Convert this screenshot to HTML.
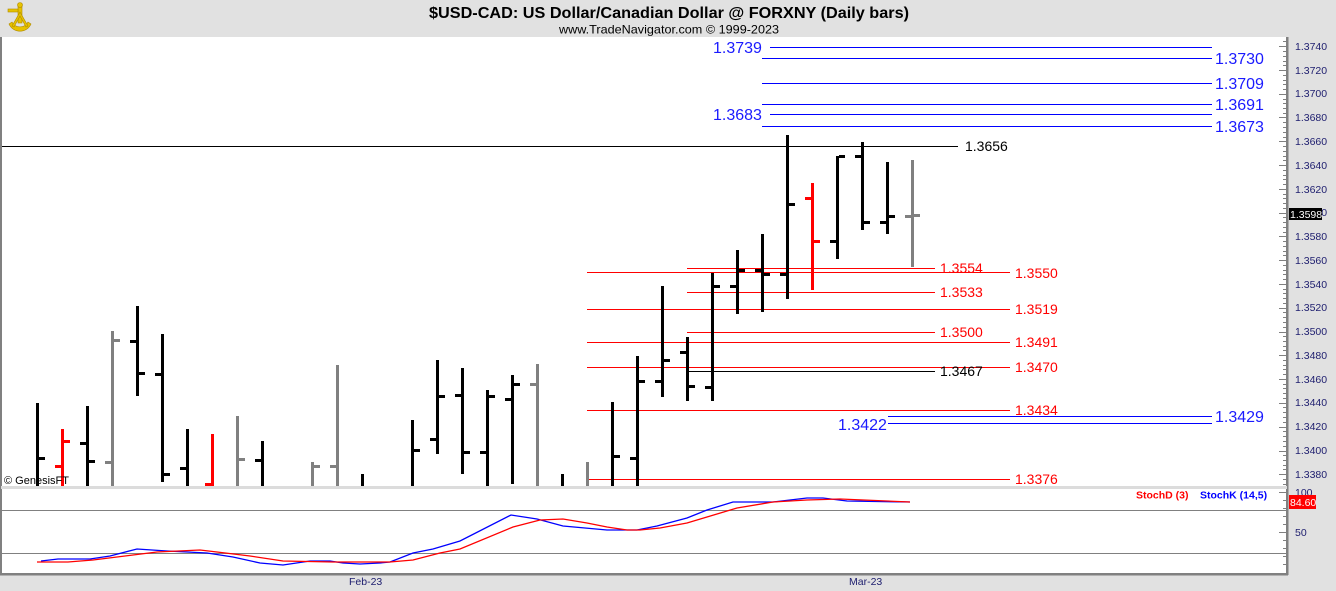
<!DOCTYPE html>
<html><head><meta charset="utf-8"><style>
html,body{margin:0;padding:0;background:#e1e1e1;}
svg{display:block;}
text{font-family:"Liberation Sans",Arial,sans-serif;}
</style></head><body>
<svg width="1336" height="591" viewBox="0 0 1336 591" xmlns="http://www.w3.org/2000/svg">
<rect x="0" y="0" width="1336" height="591" fill="#e1e1e1"/>
<!-- header -->
<g fill="#e6c200" stroke="#b08a00" stroke-width="0.6">
<path d="M9 24 A12 12 0 0 0 31 24 L28 22 A9 9 0 0 1 12 22 Z"/>
<rect x="18" y="5" width="4" height="18"/>
<rect x="8" y="9" width="10" height="3"/>
<circle cx="20" cy="5" r="2.5"/>
<path d="M20 12 L12 26 L14 27 L20 16 L26 27 L28 26 Z"/>
</g>
<text x="429" y="18" font-size="16" font-weight="bold" textLength="480" lengthAdjust="spacingAndGlyphs" fill="#000">$USD-CAD:  US Dollar/Canadian Dollar @ FORXNY  (Daily bars)</text>
<text x="559" y="33.5" font-size="12" textLength="220" lengthAdjust="spacingAndGlyphs" fill="#000">www.TradeNavigator.com © 1999-2023</text>

<!-- plot areas -->
<rect x="1" y="37" width="1286" height="449" fill="#fff"/>
<rect x="1" y="489" width="1286" height="84" fill="#fff"/>
<rect x="0" y="37" width="2" height="538" fill="#808080"/>
<rect x="1286" y="37" width="2.5" height="538" fill="#808080"/>
<rect x="0" y="573" width="1288" height="2.5" fill="#808080"/>

<!-- level lines -->
<g stroke-width="1" shape-rendering="crispEdges">
<line x1="770" y1="47.5" x2="1212" y2="47.5" stroke="#0000ff"/>
<line x1="762" y1="58.5" x2="1212" y2="58.5" stroke="#0000ff"/>
<line x1="762" y1="83.5" x2="1212" y2="83.5" stroke="#0000ff"/>
<line x1="762" y1="104.5" x2="1212" y2="104.5" stroke="#0000ff"/>
<line x1="770" y1="114.5" x2="1212" y2="114.5" stroke="#0000ff"/>
<line x1="762" y1="126.5" x2="1212" y2="126.5" stroke="#0000ff"/>
<line x1="2" y1="146.5" x2="958" y2="146.5" stroke="#000"/>
<line x1="687" y1="268.5" x2="935" y2="268.5" stroke="#ff0000"/>
<line x1="587" y1="272.5" x2="1010" y2="272.5" stroke="#ff0000"/>
<line x1="687" y1="292.5" x2="935" y2="292.5" stroke="#ff0000"/>
<line x1="587" y1="309.5" x2="1010" y2="309.5" stroke="#ff0000"/>
<line x1="687" y1="332.5" x2="935" y2="332.5" stroke="#ff0000"/>
<line x1="587" y1="342.5" x2="1010" y2="342.5" stroke="#ff0000"/>
<line x1="587" y1="367.5" x2="1010" y2="367.5" stroke="#ff0000"/>
<line x1="687" y1="371.5" x2="935" y2="371.5" stroke="#000"/>
<line x1="587" y1="410.5" x2="1010" y2="410.5" stroke="#ff0000"/>
<line x1="888" y1="416.5" x2="1212" y2="416.5" stroke="#0000ff"/>
<line x1="888" y1="423.5" x2="1212" y2="423.5" stroke="#0000ff"/>
<line x1="587" y1="479.5" x2="1010" y2="479.5" stroke="#ff0000"/>
</g>

<!-- level labels -->
<g font-size="16" fill="#1a1aff">
<text x="713" y="53">1.3739</text>
<text x="1215" y="64">1.3730</text>
<text x="1215" y="89">1.3709</text>
<text x="1215" y="110">1.3691</text>
<text x="713" y="120">1.3683</text>
<text x="1215" y="132">1.3673</text>
<text x="1215" y="422">1.3429</text>
<text x="838" y="430">1.3422</text>
</g>
<g font-size="14">
<text x="965" y="151" fill="#000">1.3656</text>
<text x="940" y="273" fill="#ff0000">1.3554</text>
<text x="1015" y="278" fill="#ff0000">1.3550</text>
<text x="940" y="297" fill="#ff0000">1.3533</text>
<text x="1015" y="314" fill="#ff0000">1.3519</text>
<text x="940" y="337" fill="#ff0000">1.3500</text>
<text x="1015" y="347" fill="#ff0000">1.3491</text>
<text x="1015" y="372" fill="#ff0000">1.3470</text>
<text x="940" y="376" fill="#000">1.3467</text>
<text x="1015" y="415" fill="#ff0000">1.3434</text>
<text x="1015" y="484" fill="#ff0000">1.3376</text>
</g>

<!-- bars -->
<g shape-rendering="crispEdges">
<g fill="#000">
<rect x="36" y="403" width="3" height="83"/><rect x="39" y="457" width="6" height="3"/>
<rect x="86" y="406" width="3" height="80"/><rect x="80" y="442" width="6" height="3"/><rect x="89" y="460" width="6" height="3"/>
<rect x="136" y="306" width="3" height="90"/><rect x="130" y="340" width="6" height="3"/><rect x="139" y="372" width="6" height="3"/>
<rect x="161" y="334" width="3" height="148"/><rect x="155" y="373" width="6" height="3"/><rect x="164" y="473" width="6" height="3"/>
<rect x="186" y="429" width="3" height="57"/><rect x="180" y="467" width="6" height="3"/>
<rect x="261" y="441" width="3" height="45"/><rect x="255" y="459" width="6" height="3"/>
<rect x="361" y="474" width="3" height="12"/>
<rect x="411" y="420" width="3" height="66"/><rect x="414" y="449" width="6" height="3"/>
<rect x="436" y="360" width="3" height="94"/><rect x="430" y="438" width="6" height="3"/><rect x="439" y="395" width="6" height="3"/>
<rect x="461" y="368" width="3" height="106"/><rect x="455" y="394" width="6" height="3"/><rect x="464" y="451" width="6" height="3"/>
<rect x="486" y="390" width="3" height="96"/><rect x="480" y="451" width="6" height="3"/><rect x="489" y="395" width="6" height="3"/>
<rect x="511" y="375" width="3" height="109"/><rect x="505" y="398" width="6" height="3"/><rect x="514" y="383" width="6" height="3"/>
<rect x="561" y="474" width="3" height="12"/>
<rect x="611" y="402" width="3" height="84"/><rect x="614" y="455" width="6" height="3"/>
<rect x="636" y="356" width="3" height="130"/><rect x="630" y="457" width="6" height="3"/><rect x="639" y="380" width="6" height="3"/>
<rect x="661" y="286" width="3" height="111"/><rect x="655" y="380" width="6" height="3"/><rect x="664" y="359" width="6" height="3"/>
<rect x="686" y="337" width="3" height="64"/><rect x="680" y="351" width="6" height="3"/><rect x="689" y="385" width="6" height="3"/>
<rect x="711" y="273" width="3" height="128"/><rect x="705" y="386" width="6" height="3"/><rect x="714" y="285" width="6" height="3"/>
<rect x="736" y="250" width="3" height="64"/><rect x="730" y="285" width="6" height="3"/><rect x="739" y="269" width="6" height="3"/>
<rect x="761" y="234" width="3" height="78"/><rect x="755" y="269" width="6" height="3"/><rect x="764" y="273" width="6" height="3"/>
<rect x="786" y="135" width="3" height="164"/><rect x="780" y="273" width="6" height="3"/><rect x="789" y="203" width="6" height="3"/>
<rect x="836" y="156" width="3" height="103"/><rect x="830" y="240" width="6" height="3"/><rect x="839" y="155" width="6" height="3"/>
<rect x="861" y="142" width="3" height="88"/><rect x="855" y="155" width="6" height="3"/><rect x="864" y="221" width="6" height="3"/>
<rect x="886" y="162" width="3" height="72"/><rect x="880" y="221" width="6" height="3"/><rect x="889" y="215" width="6" height="3"/>
</g>
<g fill="#ff0000">
<rect x="61" y="429" width="3" height="57"/><rect x="55" y="465" width="6" height="3"/><rect x="64" y="440" width="6" height="3"/>
<rect x="211" y="434" width="3" height="52"/><rect x="205" y="483" width="6" height="3"/>
<rect x="811" y="183" width="3" height="107"/><rect x="805" y="197" width="6" height="3"/><rect x="814" y="240" width="6" height="3"/>
</g>
<g fill="#808080">
<rect x="111" y="331" width="3" height="155"/><rect x="105" y="461" width="6" height="3"/><rect x="114" y="339" width="6" height="3"/>
<rect x="236" y="416" width="3" height="70"/><rect x="239" y="458" width="6" height="3"/>
<rect x="311" y="462" width="3" height="24"/><rect x="314" y="465" width="6" height="3"/>
<rect x="336" y="365" width="3" height="121"/><rect x="330" y="465" width="6" height="3"/>
<rect x="536" y="364" width="3" height="122"/><rect x="530" y="383" width="6" height="3"/>
<rect x="586" y="462" width="3" height="24"/>
<rect x="911" y="160" width="3" height="107"/><rect x="905" y="215" width="6" height="3"/><rect x="914" y="214" width="6" height="3"/>
</g>
</g>

<text x="4" y="484" font-size="11" fill="#000">© GenesisFT</text>

<!-- separator -->
<rect x="1" y="486" width="1286" height="3" fill="#dcdcdc"/>

<!-- lower panel -->
<g shape-rendering="crispEdges" stroke="#808080" stroke-width="1">
<line x1="2" y1="510.5" x2="1286" y2="510.5"/>
<line x1="2" y1="553.5" x2="1286" y2="553.5"/>
</g>
<polyline fill="none" stroke="#0000ff" stroke-width="1.3" points="41,561 58,559 90,559 110,556 137,549 167,551 207,553 233,557 260,563 283,565 310,561 330,561 343,563 360,564 380,563 390,562 413,553 433,549 460,541 511,515 537,519 563,526 607,530 637,530 657,526 687,518 707,510 733,502 773,502 807,498 823,498 847,501 910,502"/>
<polyline fill="none" stroke="#ff0000" stroke-width="1.3" points="37,562 68,562 93,560 133,555 157,552 200,550 217,552 250,556 283,561 333,562 390,562 413,560 440,553 460,549 513,527 540,520 563,519 587,523 607,527 627,530 640,530 660,528 687,523 707,517 737,508 773,502 807,500 840,499 910,502"/>
<text x="1136" y="498.5" font-size="10.5" font-weight="bold" fill="#ff0000">StochD (3)</text>
<text x="1200" y="498.5" font-size="10.5" font-weight="bold" fill="#0000ff">StochK (14,5)</text>

<!-- right axis ticks -->
<g stroke="#808080" stroke-width="1" shape-rendering="crispEdges">
<line x1="1279" y1="46.5" x2="1286" y2="46.5"/>
<line x1="1279" y1="70.5" x2="1286" y2="70.5"/>
<line x1="1279" y1="94.5" x2="1286" y2="94.5"/>
<line x1="1279" y1="117.5" x2="1286" y2="117.5"/>
<line x1="1279" y1="141.5" x2="1286" y2="141.5"/>
<line x1="1279" y1="165.5" x2="1286" y2="165.5"/>
<line x1="1279" y1="189.5" x2="1286" y2="189.5"/>
<line x1="1279" y1="213.5" x2="1286" y2="213.5"/>
<line x1="1279" y1="236.5" x2="1286" y2="236.5"/>
<line x1="1279" y1="260.5" x2="1286" y2="260.5"/>
<line x1="1279" y1="284.5" x2="1286" y2="284.5"/>
<line x1="1279" y1="308.5" x2="1286" y2="308.5"/>
<line x1="1279" y1="332.5" x2="1286" y2="332.5"/>
<line x1="1279" y1="355.5" x2="1286" y2="355.5"/>
<line x1="1279" y1="379.5" x2="1286" y2="379.5"/>
<line x1="1279" y1="403.5" x2="1286" y2="403.5"/>
<line x1="1279" y1="427.5" x2="1286" y2="427.5"/>
<line x1="1279" y1="451.5" x2="1286" y2="451.5"/>
<line x1="1279" y1="474.5" x2="1286" y2="474.5"/>
<line x1="1279" y1="492.5" x2="1286" y2="492.5"/>
<line x1="1279" y1="532.5" x2="1286" y2="532.5"/>
</g>
<g stroke="#808080" stroke-width="1" shape-rendering="crispEdges">
<path d="M1283 41.5h3M1283 51.5h3M1283 56.5h3M1283 61.5h3M1283 65.5h3M1283 75.5h3M1283 80.5h3M1283 84.5h3M1283 89.5h3M1283 99.5h3M1283 103.5h3M1283 108.5h3M1283 113.5h3M1283 122.5h3M1283 127.5h3M1283 132.5h3M1283 137.5h3M1283 146.5h3M1283 151.5h3M1283 156.5h3M1283 160.5h3M1283 170.5h3M1283 175.5h3M1283 179.5h3M1283 184.5h3M1283 194.5h3M1283 198.5h3M1283 203.5h3M1283 208.5h3M1283 217.5h3M1283 222.5h3M1283 227.5h3M1283 232.5h3M1283 241.5h3M1283 246.5h3M1283 251.5h3M1283 255.5h3M1283 265.5h3M1283 270.5h3M1283 274.5h3M1283 279.5h3M1283 289.5h3M1283 293.5h3M1283 298.5h3M1283 303.5h3M1283 312.5h3M1283 317.5h3M1283 322.5h3M1283 327.5h3M1283 336.5h3M1283 341.5h3M1283 346.5h3M1283 350.5h3M1283 360.5h3M1283 365.5h3M1283 369.5h3M1283 374.5h3M1283 384.5h3M1283 388.5h3M1283 393.5h3M1283 398.5h3M1283 407.5h3M1283 412.5h3M1283 417.5h3M1283 422.5h3M1283 431.5h3M1283 436.5h3M1283 441.5h3M1283 446.5h3M1283 455.5h3M1283 460.5h3M1283 465.5h3M1283 469.5h3M1283 479.5h3M1283 484.5h3M1283 500.5h3M1283 508.5h3M1283 516.5h3M1283 524.5h3M1283 540.5h3M1283 548.5h3M1283 556.5h3M1283 564.5h3"/>
</g>

<!-- right axis labels -->
<g font-size="10.5" fill="#202070">
<text x="1295" y="50">1.3740</text>
<text x="1295" y="74">1.3720</text>
<text x="1295" y="97">1.3700</text>
<text x="1295" y="121">1.3680</text>
<text x="1295" y="145">1.3660</text>
<text x="1295" y="169">1.3640</text>
<text x="1295" y="193">1.3620</text>
<text x="1295" y="216">1.3600</text>
<text x="1295" y="240">1.3580</text>
<text x="1295" y="264">1.3560</text>
<text x="1295" y="288">1.3540</text>
<text x="1295" y="311">1.3520</text>
<text x="1295" y="335">1.3500</text>
<text x="1295" y="359">1.3480</text>
<text x="1295" y="383">1.3460</text>
<text x="1295" y="406">1.3440</text>
<text x="1295" y="430">1.3420</text>
<text x="1295" y="454">1.3400</text>
<text x="1295" y="478">1.3380</text>
<text x="1295" y="496">100</text>
<text x="1295" y="536">50</text>
</g>
<rect x="1289" y="208" width="33" height="12" fill="#000"/>
<text x="1290" y="218" font-size="10.5" fill="#fff">1.3598</text>
<rect x="1289" y="495" width="27" height="14" fill="#ff0000"/>
<text x="1290" y="506" font-size="10.5" fill="#fff">84.60</text>

<!-- date labels -->
<g font-size="10.5" fill="#202070">
<text x="349" y="585">Feb-23</text>
<text x="849" y="585">Mar-23</text>
</g>
</svg>
</body></html>
